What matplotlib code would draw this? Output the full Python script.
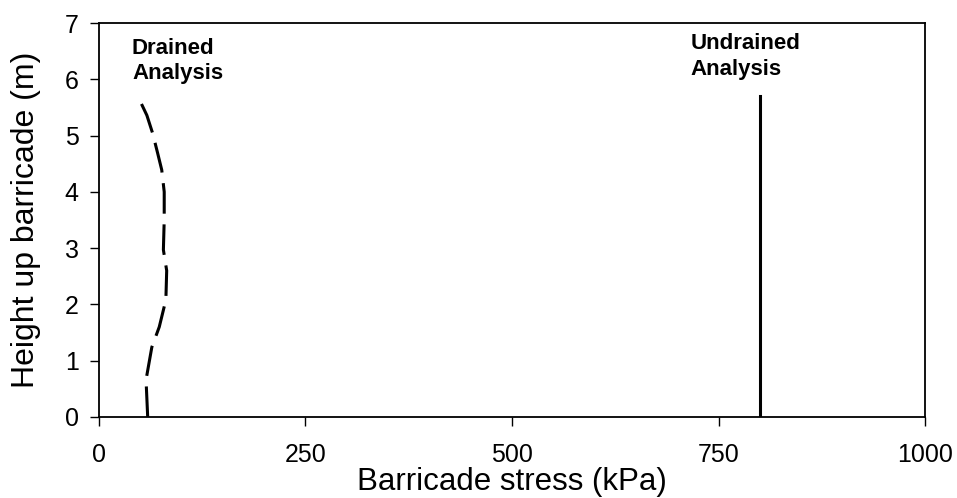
import numpy as np
import matplotlib
matplotlib.use("Agg")
import matplotlib.pyplot as plt

plt.rcParams['font.family'] = ['Liberation Sans', 'DejaVu Sans']

# drained analysis profile (height in m, stress in kPa)
drained_height = [0, 0.66, 1.24, 1.6, 2.08, 2.6, 2.97, 3.5, 4.0, 4.39, 4.69, 5.04, 5.36, 5.7]
drained_stress = [59, 57, 64, 73, 81, 82, 78, 79, 79, 76, 71, 65, 58, 47]

# undrained analysis: constant stress
undrained_height = [0, 5.7]
undrained_stress = [800, 800]

xticks = [0, 250, 500, 750, 1000]
yticks = [0, 1, 2, 3, 4, 5, 6, 7]

fig = plt.figure(figsize=(9.57, 4.98), dpi=100)
ax = fig.add_axes([0.1034, 0.1627, 0.8632, 0.7911])

ax.plot(drained_stress, drained_height, color='k', lw=2.2, dashes=(10, 3.5))
ax.plot(undrained_stress, undrained_height, color='k', lw=2.2)

ax.text(40, 6.74, "Drained\nAnalysis", fontsize=16, fontweight='bold',
        va='top', ha='left', linespacing=1.3)
ax.text(716, 6.82, "Undrained\nAnalysis", fontsize=16, fontweight='bold',
        va='top', ha='left', linespacing=1.3)

ax.set_xlim(0, 1000)
ax.set_ylim(0, 7)
ax.set_xticks(xticks)
ax.set_yticks(yticks)
ax.tick_params(direction='out', length=6.5, width=1, labelsize=18)
ax.tick_params(axis='y', pad=8)
ax.tick_params(axis='x', pad=12)
for s in ax.spines.values():
    s.set_linewidth(1.3)

ax.set_xlabel("Barricade stress (kPa)", fontsize=22.5, labelpad=0.5)
ax.set_ylabel("Height up barricade (m)", fontsize=23, labelpad=17)

fig.savefig("out.png", dpi=100)
